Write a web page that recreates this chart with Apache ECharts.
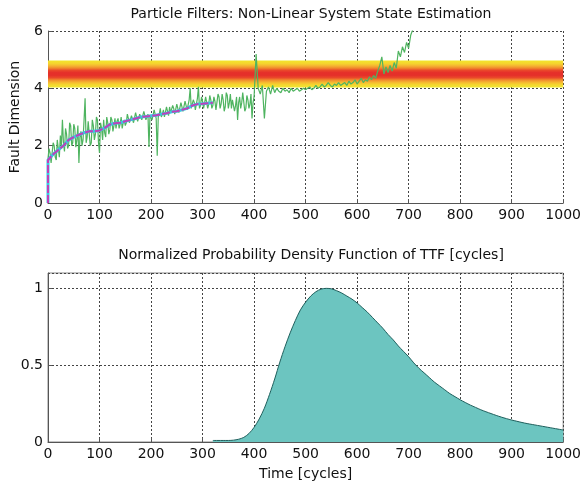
<!DOCTYPE html>
<html><head><meta charset="utf-8">
<script src="https://cdn.jsdelivr.net/npm/echarts@6/dist/echarts.min.js"></script>
<style>html,body{margin:0;padding:0;background:#fff}#c{width:584px;height:487px}</style>
</head><body><div id="c"></div>
<script>
// ---- data ----
const topTitle = 'Particle Filters: Non-Linear System State Estimation';
const bottomTitle = 'Normalized Probability Density Function of TTF [cycles]';
const topYName = 'Fault Dimension';
const bottomXName = 'Time [cycles]';

// noisy measurement (green): early part one value every 2 cycles from 0 to 398
const measEarlyStart = 0, measEarlyStep = 2;
const measEarly = [
  1.55,1.9,1.75,1.4,1.45,2.1,2.0,1.6,1.5,2.2,        // 0-18
  1.9,1.6,2.35,2.0,2.9,2.1,1.8,2.6,2.4,1.9,          // 20-38
  2.0,2.8,2.7,2.0,2.1,2.75,2.6,1.95,2.2,2.7,         // 40-58
  1.4,2.3,2.5,2.0,2.2,2.9,3.65,2.1,2.3,2.85,         // 60-78
  2.8,2.0,2.1,2.9,2.7,2.2,2.4,3.0,2.9,2.1,           // 80-98
  1.75,2.8,2.6,2.2,2.9,2.45,2.3,3.0,2.8,2.4,         // 100-118
  2.55,3.0,2.9,2.5,2.7,2.95,2.6,2.85,2.95,2.6,       // 120-138
  2.75,3.0,2.6,2.8,2.9,2.7,2.8,3.1,3.05,2.8,         // 140-158
  2.75,3.05,3.0,2.8,2.85,3.15,3.1,2.85,2.9,3.1,      // 160-178
  3.05,2.9,2.95,3.2,3.15,2.9,2.9,3.1,1.95,3.05,      // 180-198
  3.1,2.9,2.95,3.25,3.2,2.95,1.65,3.0,3.1,3.3,       // 200-218
  3.0,3.1,3.25,3.0,3.05,3.35,3.2,3.05,3.35,3.15,     // 220-238
  3.1,3.4,3.3,3.1,3.15,3.45,3.4,3.15,3.2,3.5,        // 240-258
  3.35,3.2,3.25,3.55,3.5,3.25,3.3,3.6,4.0,3.3,       // 260-278
  3.35,3.6,3.5,3.25,3.3,3.65,4.05,3.3,3.4,3.7,       // 280-298
  3.55,3.3,3.35,3.7,3.5,3.3,3.45,3.75,3.6,3.3,       // 300-318
  3.4,3.7,3.55,3.25,3.3,3.8,3.7,3.3,3.45,3.8,        // 320-338
  3.6,3.2,3.35,3.85,3.75,3.3,3.5,3.8,3.3,3.6,        // 340-358
  3.65,3.2,3.4,3.7,2.9,3.5,3.7,3.3,3.5,3.85,         // 360-378
  3.8,3.2,3.3,3.75,3.6,3.3,3.45,3.8,2.95,3.5         // 380-398
];
// later part one value every 4 cycles from 400 to 720
const measLateStart = 400, measLateStep = 4;
const measLate = [
  3.7,5.2,4.0,3.8,4.1,2.95,3.9,4.05,3.8,4.1,         // 400-436
  3.85,4.0,3.9,3.85,4.0,3.9,3.95,3.85,4.0,3.9,       // 440-476
  3.95,4.0,3.9,3.95,4.0,3.95,4.0,4.05,3.95,4.0,      // 480-516
  4.1,4.0,4.05,4.15,4.05,4.1,4.2,4.1,4.05,4.15,      // 520-556
  4.1,4.2,4.1,4.15,4.2,4.1,4.25,4.15,4.2,4.3,        // 560-596
  4.15,4.25,4.35,4.2,4.3,4.25,4.4,4.3,4.45,4.35,     // 600-636
  4.6,4.8,5.1,4.5,4.75,4.55,4.8,4.6,4.9,4.7,         // 640-676
  5.3,5.1,5.45,5.25,5.6,5.4,5.85,6.05,6.1,6.05,      // 680-716
  6.1                                                // 720
];

// filter estimate (magenta / cyan)
const estX = [0,0,10,20,30,40,50,60,70,80,90,100,110,120,130,140,150,160,170,180,190,200,210,220,230,240,250,260,270,280,290,300,310,320];
const estY = [0,1.5,1.7,1.85,2.0,2.2,2.3,2.38,2.45,2.5,2.5,2.53,2.62,2.74,2.78,2.8,2.85,2.9,2.95,3.0,3.02,3.04,3.06,3.1,3.13,3.18,3.2,3.25,3.3,3.4,3.45,3.46,3.48,3.5];

// failure threshold band
const bandLow = 4.03, bandHigh = 4.97;

// normalized PDF of TTF
const pdfX = [320,330,340,350,360,370,380,390,400,410,420,430,440,450,460,470,480,490,500,510,520,530,540,550,560,570,580,590,600,610,620,630,640,650,660,670,680,690,700,710,720,730,740,750,760,770,780,790,800,810,820,830,840,850,860,870,880,890,900,910,920,930,940,950,960,970,980,990,1000];
const pdfY = [0.01,0.01,0.01,0.01,0.012,0.018,0.03,0.055,0.095,0.15,0.22,0.31,0.41,0.52,0.62,0.71,0.79,0.86,0.91,0.95,0.978,0.995,1.0,0.997,0.985,0.97,0.95,0.93,0.905,0.875,0.845,0.81,0.775,0.74,0.7,0.665,0.625,0.59,0.555,0.515,0.48,0.45,0.42,0.39,0.365,0.34,0.315,0.295,0.275,0.257,0.24,0.225,0.21,0.197,0.185,0.173,0.162,0.152,0.143,0.135,0.127,0.12,0.114,0.108,0.102,0.096,0.09,0.084,0.078];

// ---- chart ----
const FONT = 'DejaVu Sans';
const measData = measEarly.map((v, i) => [measEarlyStart + i * measEarlyStep, v])
  .concat(measLate.map((v, i) => [measLateStart + i * measLateStep, v]));
const estData = estX.map((x, i) => [x, estY[i]]);
const pdfData = pdfX.map((x, i) => [x, pdfY[i]]);

const gridLine = { show: true, lineStyle: { color: '#444', type: [2, 2], width: 1 } };
const axisLineS = { show: true, lineStyle: { color: '#555', width: 1 } };
const tickS = { show: true, inside: true, length: 4, lineStyle: { color: '#555' } };
const labelS = { color: '#111', fontSize: 14, fontFamily: FONT, margin: 5, formatter: v => String(v) };
const nameS = { fontFamily: FONT, fontSize: 14, color: '#111' };

const chart = echarts.init(document.getElementById('c'), null, { renderer: 'canvas' });
chart.setOption({
  animation: false,
  backgroundColor: '#fff',
  title: [
    { text: topTitle, left: 306, top: 2, textAlign: 'center',
      textStyle: { fontFamily: FONT, fontSize: 14, fontWeight: 'normal', color: '#111' } },
    { text: bottomTitle, left: 306, top: 243, textAlign: 'center',
      textStyle: { fontFamily: FONT, fontSize: 14, fontWeight: 'normal', color: '#111' } }
  ],
  grid: [
    { left: 48, right: 18, top: 31, height: 172, show: false },
    { left: 48, right: 18, top: 273, height: 169, show: true, borderColor: '#888', borderWidth: 1 }
  ],
  xAxis: [
    { type: 'value', gridIndex: 0, min: 0, max: 1000, interval: 100,
      axisLine: axisLineS, axisTick: tickS, axisLabel: labelS, splitLine: gridLine },
    { type: 'value', gridIndex: 1, min: 0, max: 1000, interval: 100,
      axisLine: axisLineS, axisTick: tickS, axisLabel: labelS, splitLine: gridLine,
      name: bottomXName, nameLocation: 'middle', nameGap: 25, nameTextStyle: nameS }
  ],
  yAxis: [
    { type: 'value', gridIndex: 0, min: 0, max: 6, interval: 2,
      axisLine: axisLineS, axisTick: tickS, axisLabel: labelS, splitLine: gridLine,
      name: topYName, nameLocation: 'middle', nameGap: 26, nameRotate: 90, nameTextStyle: nameS },
    { type: 'value', gridIndex: 1, min: 0, max: 1.1, interval: 0.5,
      axisLine: axisLineS, axisTick: tickS,
      axisLabel: Object.assign({}, labelS, { showMaxLabel: false }),
      splitLine: gridLine }
  ],
  series: [
    { type: 'line', xAxisIndex: 0, yAxisIndex: 0, data: [], silent: true, z: 1,
      markArea: {
        silent: true,
        itemStyle: {
          color: { type: 'linear', x: 0, y: 0, x2: 0, y2: 1, colorStops: [
            { offset: 0.0, color: '#f3e62c' },
            { offset: 0.12, color: '#f5d22e' },
            { offset: 0.2, color: '#f5b232' },
            { offset: 0.28, color: '#f08a2c' },
            { offset: 0.36, color: '#ea4a2a' },
            { offset: 0.45, color: '#e5302a' },
            { offset: 0.55, color: '#e5302a' },
            { offset: 0.64, color: '#ea4a2a' },
            { offset: 0.72, color: '#f08a2c' },
            { offset: 0.8, color: '#f5b232' },
            { offset: 0.88, color: '#f5d22e' },
            { offset: 1.0, color: '#f0e830' }
          ] }
        },
        data: [[{ coord: [0, bandHigh] }, { coord: [1000, bandLow] }]]
      }
    },
    { type: 'line', xAxisIndex: 0, yAxisIndex: 0, data: measData, z: 3,
      showSymbol: false, clip: true,
      lineStyle: { color: '#4fb460', width: 1.2 } },
    { type: 'line', xAxisIndex: 0, yAxisIndex: 0, data: estData, z: 4,
      showSymbol: false, lineStyle: { color: '#3ac8e0', width: 3 } },
    { type: 'line', xAxisIndex: 0, yAxisIndex: 0, data: estData, z: 5,
      showSymbol: false, lineStyle: { color: '#c040b8', width: 2, type: [8, 2] } },
    { type: 'line', xAxisIndex: 1, yAxisIndex: 1, data: pdfData, z: 3,
      showSymbol: false, smooth: 0.3,
      lineStyle: { color: '#1f5f5c', width: 1 },
      areaStyle: { color: '#6cc5c0', opacity: 1 } }
  ]
});
</script></body></html>
